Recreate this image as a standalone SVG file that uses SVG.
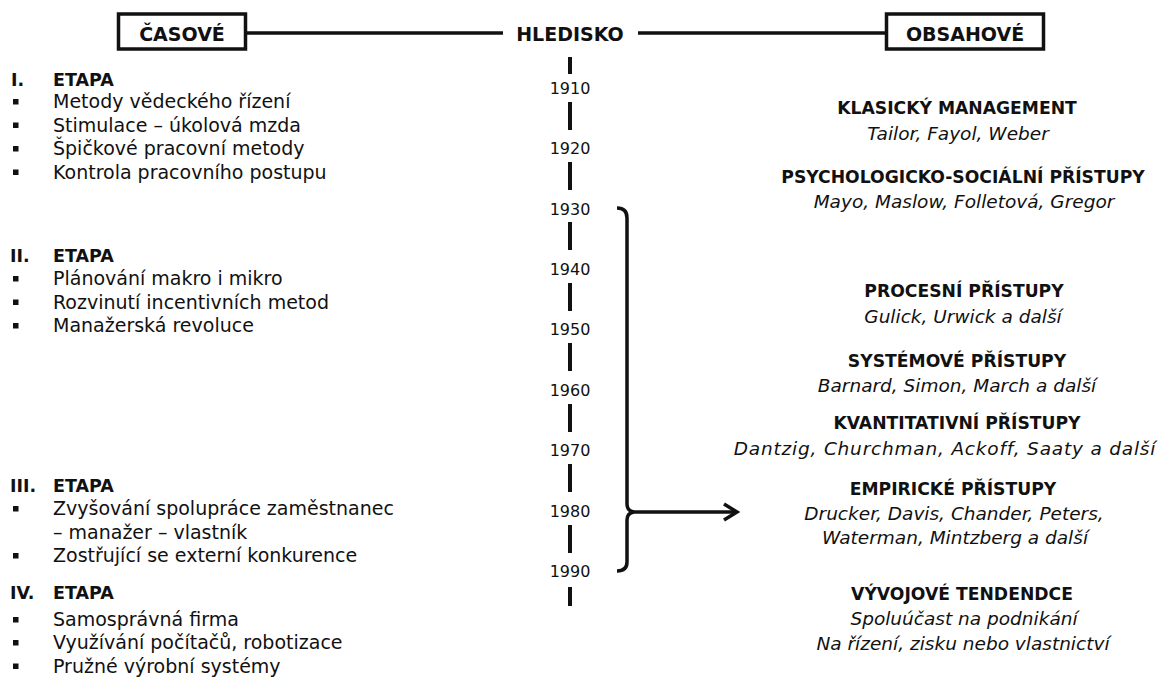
<svg xmlns="http://www.w3.org/2000/svg" width="1166" height="677" viewBox="0 0 1166 677">
<style>
text{font-family:"DejaVu Sans","Open Sans",sans-serif;fill:#111}
.h{font-weight:bold;font-size:19px;text-anchor:middle}
.b{font-size:19px}
.bb{font-size:17.5px;font-weight:bold}
.yr{font-size:16px;text-anchor:middle}
.t{font-weight:bold;font-size:17.2px;text-anchor:middle}
.n{font-style:italic;font-size:18.5px;text-anchor:middle}
.ln{stroke:#111;stroke-width:3.5;fill:none}
.dash{stroke:#111;stroke-width:4}
.box{fill:#fff;stroke:#111;stroke-width:3.5}
.sq{fill:#111}
</style>
<defs>
<rect id="bul" class="sq" width="5.5" height="5.5"/>
</defs>
<g id="connectors">
<line class="ln" x1="246" y1="33" x2="503" y2="33"/>
<line class="ln" x1="638" y1="33" x2="886" y2="33"/>
<line class="dash" x1="570" y1="57" x2="570" y2="74"/>
<line class="dash" x1="570" y1="102" x2="570" y2="130"/>
<line class="dash" x1="570" y1="162" x2="570" y2="190"/>
<line class="dash" x1="570" y1="222" x2="570" y2="250"/>
<line class="dash" x1="570" y1="283" x2="570" y2="311"/>
<line class="dash" x1="570" y1="343" x2="570" y2="371"/>
<line class="dash" x1="570" y1="404" x2="570" y2="432"/>
<line class="dash" x1="570" y1="464" x2="570" y2="492"/>
<line class="dash" x1="570" y1="525" x2="570" y2="553"/>
<line class="dash" x1="570" y1="587" x2="570" y2="606"/>
<path class="ln" d="M617,208 Q627,208 627,218 L627,504 Q627,511 634,512 Q627,513 627,520 L627,562 Q627,571 617,571"/>
<line class="ln" x1="631" y1="512" x2="737" y2="512"/>
<polyline class="ln" points="724,504 737,512 724,520"/>
</g>
<g id="casove">
<rect class="box" x="118.5" y="14" width="127" height="35"/>
<text class="h" x="182" y="41">ČASOVÉ</text>
</g>
<g id="hledisko">
<text class="h" x="570" y="41">HLEDISKO</text>
</g>
<g id="obsahove">
<rect class="box" x="886.5" y="14" width="157" height="35"/>
<text class="h" x="965" y="41">OBSAHOVÉ</text>
</g>
<g id="years">
<text class="yr" x="570" y="94">1910</text>
<text class="yr" x="570" y="154">1920</text>
<text class="yr" x="570" y="215">1930</text>
<text class="yr" x="570" y="275">1940</text>
<text class="yr" x="570" y="335">1950</text>
<text class="yr" x="570" y="396">1960</text>
<text class="yr" x="570" y="456">1970</text>
<text class="yr" x="570" y="517">1980</text>
<text class="yr" x="570" y="577">1990</text>
</g>
<g id="etapa1">
<text class="bb" x="11" y="86">I.</text>
<text class="bb" x="53" y="86">ETAPA</text>
<use href="#bul" x="13" y="99"/><text class="b" x="53" y="108">Metody vědeckého řízení</text>
<use href="#bul" x="13" y="122.5"/><text class="b" x="53" y="131.5">Stimulace – úkolová mzda</text>
<use href="#bul" x="13" y="146"/><text class="b" x="53" y="155">Špičkové pracovní metody</text>
<use href="#bul" x="13" y="169.5"/><text class="b" x="53" y="178.5">Kontrola pracovního postupu</text>
</g>
<g id="etapa2">
<text class="bb" x="10" y="262">II.</text>
<text class="bb" x="53" y="262">ETAPA</text>
<use href="#bul" x="13" y="276"/><text class="b" x="53" y="285">Plánování makro i mikro</text>
<use href="#bul" x="13" y="299.5"/><text class="b" x="53" y="308.5">Rozvinutí incentivních metod</text>
<use href="#bul" x="13" y="323"/><text class="b" x="53" y="332">Manažerská revoluce</text>
</g>
<g id="etapa3">
<text class="bb" x="10" y="492">III.</text>
<text class="bb" x="53" y="492">ETAPA</text>
<use href="#bul" x="13" y="506"/><text class="b" x="53" y="515">Zvyšování spolupráce zaměstnanec</text>
<text class="b" x="53" y="538.5">– manažer – vlastník</text>
<use href="#bul" x="13" y="553"/><text class="b" x="53" y="562">Zostřující se externí konkurence</text>
</g>
<g id="etapa4">
<text class="bb" x="10" y="599">IV.</text>
<text class="bb" x="53" y="599">ETAPA</text>
<use href="#bul" x="13" y="617"/><text class="b" x="53" y="626">Samosprávná firma</text>
<use href="#bul" x="13" y="640"/><text class="b" x="53" y="649">Využívání počítačů, robotizace</text>
<use href="#bul" x="13" y="663.5"/><text class="b" x="53" y="672.5">Pružné výrobní systémy</text>
</g>
<g id="klasicky">
<text class="t" x="957" y="114">KLASICKÝ MANAGEMENT</text>
<text class="n" x="958" y="140">Tailor, Fayol, Weber</text>
</g>
<g id="psycho">
<text class="t" x="963" y="183">PSYCHOLOGICKO-SOCIÁLNÍ PŘÍSTUPY</text>
<text class="n" x="964" y="208">Mayo, Maslow, Folletová, Gregor</text>
</g>
<g id="procesni">
<text class="t" x="964" y="297">PROCESNÍ PŘÍSTUPY</text>
<text class="n" x="963" y="323">Gulick, Urwick a další</text>
</g>
<g id="systemove">
<text class="t" x="957" y="367">SYSTÉMOVÉ PŘÍSTUPY</text>
<text class="n" x="957" y="392">Barnard, Simon, March a další</text>
</g>
<g id="kvantitativni">
<text class="t" x="957" y="429">KVANTITATIVNÍ PŘÍSTUPY</text>
<text class="n" x="945" y="455" style="letter-spacing:0.8px">Dantzig, Churchman, Ackoff, Saaty a další</text>
</g>
<g id="empiricke">
<text class="t" x="953" y="495">EMPIRICKÉ PŘÍSTUPY</text>
<text class="n" x="954" y="520">Drucker, Davis, Chander, Peters,</text>
<text class="n" x="955" y="544">Waterman, Mintzberg a další</text>
</g>
<g id="vyvojove">
<text class="t" x="962" y="600">VÝVOJOVÉ TENDENDCE</text>
<text class="n" x="964" y="625">Spoluúčast na podnikání</text>
<text class="n" x="963" y="650">Na řízení, zisku nebo vlastnictví</text>
</g>
</svg>
